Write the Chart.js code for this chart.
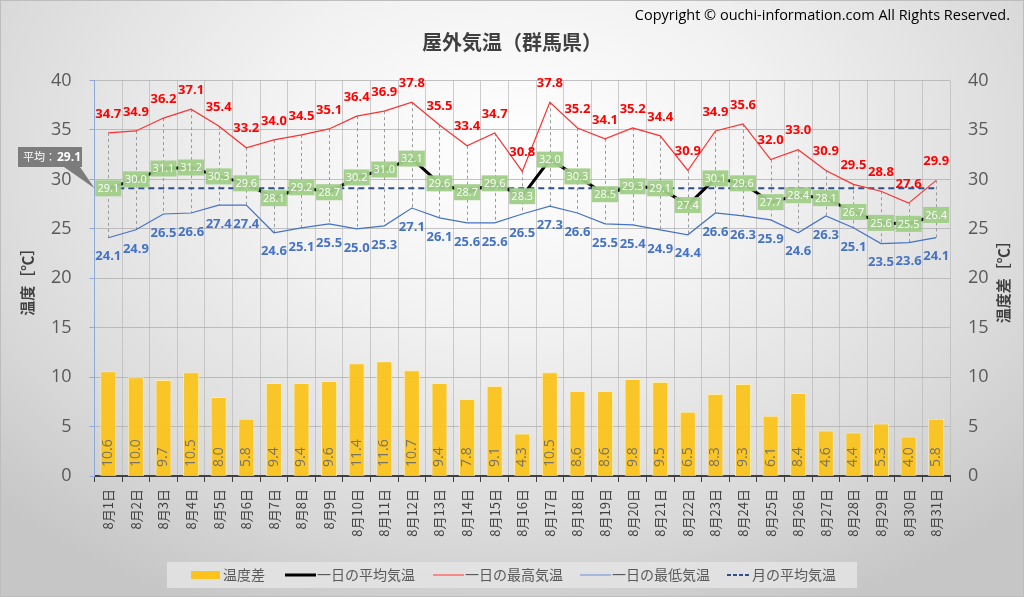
<!DOCTYPE html>
<html>
<head>
<meta charset="utf-8">
<script src="https://cdn.jsdelivr.net/npm/chart.js@4.4.0/dist/chart.umd.min.js"></script>
<style>
  html, body { margin: 0; padding: 0; }
  #wrap {
    width: 1024px; height: 597px; position: relative;
    background: radial-gradient(ellipse 70% 85% at 50% 25%, #ffffff 0%, #f2f2f2 35%, #dadada 75%, #c6c6c6 100%);
  }
</style>
</head>
<body>
<div id="wrap"><canvas id="myChart" width="1024" height="597"></canvas></div>
<script>
var days = [];
for (var d = 1; d <= 31; d++) days.push('8月' + d + '日');

var highs = [34.7, 34.9, 36.2, 37.1, 35.4, 33.2, 34.0, 34.5, 35.1, 36.4, 36.9, 37.8, 35.5, 33.4, 34.7, 30.8,
             37.8, 35.2, 34.1, 35.2, 34.4, 30.9, 34.9, 35.6, 32.0, 33.0, 30.9, 29.5, 28.8, 27.6, 29.9];
var avgs = [29.1, 30.0, 31.1, 31.2, 30.3, 29.6, 28.1, 29.2, 28.7, 30.2, 31.0, 32.1, 29.6, 28.7, 29.6, 28.3,
            32.0, 30.3, 28.5, 29.3, 29.1, 27.4, 30.1, 29.6, 27.7, 28.4, 28.1, 26.7, 25.6, 25.5, 26.4];
var lows = [24.1, 24.9, 26.5, 26.6, 27.4, 27.4, 24.6, 25.1, 25.5, 25.0, 25.3, 27.1, 26.1, 25.6, 25.6, 26.5,
            27.3, 26.6, 25.5, 25.4, 24.9, 24.4, 26.6, 26.3, 25.9, 24.6, 26.3, 25.1, 23.5, 23.6, 24.1];
var diffs = [10.6, 10.0, 9.7, 10.5, 8.0, 5.8, 9.4, 9.4, 9.6, 11.4, 11.6, 10.7, 9.4, 7.8, 9.1, 4.3,
             10.5, 8.6, 8.6, 9.8, 9.5, 6.5, 8.3, 9.3, 6.1, 8.4, 4.6, 4.4, 5.3, 4.0, 5.8];
var monthAvg = 29.1;
var monthLine = days.map(function () { return monthAvg; });

var legendItems = [
    { text: '温度差', type: 'box', color: '#FBC31C' },
    { text: '一日の平均気温', type: 'line', color: '#000000', width: 3 },
    { text: '一日の最高気温', type: 'line', color: '#FF6B6B', width: 1.5 },
    { text: '一日の最低気温', type: 'line', color: '#8FAADC', width: 1.5 },
    { text: '月の平均気温', type: 'dash', color: '#2F4F8F', width: 2 }
];

var NUM = "'Open Sans', 'DejaVu Sans', sans-serif";
var JP = "'Noto Sans CJK JP', sans-serif";

var extras = {
    id: 'extras',
    beforeDatasetsDraw: function (chart) {
        var ctx = chart.ctx, x = chart.scales.x, y = chart.scales.y;
        // high-low drop lines
        ctx.save();
        ctx.setLineDash([3, 3]);
        ctx.strokeStyle = '#9a9a9a';
        ctx.lineWidth = 1;
        for (var i = 0; i < days.length; i++) {
            var px = Math.round(x.getPixelForValue(i)) + 0.5;
            ctx.beginPath();
            ctx.moveTo(px, y.getPixelForValue(highs[i]));
            ctx.lineTo(px, y.getPixelForValue(lows[i]));
            ctx.stroke();
        }
        ctx.restore();
    },
    afterDatasetsDraw: function (chart) {
        var ctx = chart.ctx;
        ctx.save();
        // bar labels
        var bars = chart.getDatasetMeta(0).data;
        ctx.font = '14px ' + NUM;
        ctx.fillStyle = 'rgba(105,105,105,0.9)';
        ctx.textAlign = 'left';
        ctx.textBaseline = 'middle';
        bars.forEach(function (b, i) {
            ctx.save();
            ctx.translate(b.x, b.base - 9);
            ctx.rotate(-Math.PI / 2);
            ctx.fillText(diffs[i].toFixed(1), 0, 0);
            ctx.restore();
        });
        // high labels
        ctx.textAlign = 'center';
        ctx.font = 'bold 13px ' + NUM;
        ctx.fillStyle = '#FF0000';
        chart.getDatasetMeta(3).data.forEach(function (p, i) {
            ctx.fillText(highs[i].toFixed(1), p.x, p.y - 19);
        });
        // low labels
        ctx.fillStyle = '#4472C4';
        chart.getDatasetMeta(2).data.forEach(function (p, i) {
            ctx.fillText(lows[i].toFixed(1), p.x, p.y + 19);
        });
        // average labels in green boxes
        ctx.font = '11px ' + NUM;
        chart.getDatasetMeta(4).data.forEach(function (p, i) {
            ctx.fillStyle = 'rgba(160,205,135,0.95)';
            ctx.fillRect(p.x - 13, p.y - 8, 26, 16);
            ctx.fillStyle = '#ffffff';
            ctx.fillText(avgs[i].toFixed(1), p.x, p.y + 0.5);
        });
        ctx.restore();
    },
    afterDraw: function (chart) {
        var ctx = chart.ctx, area = chart.chartArea, y = chart.scales.y;
        ctx.save();
        // copyright
        ctx.fillStyle = '#000000';
        ctx.textAlign = 'right';
        ctx.textBaseline = 'middle';
        ctx.font = '14.5px ' + NUM;
        ctx.fillText('Copyright © ouchi-information.com All Rights Reserved.', 1010, 16);

        // callout for the monthly average
        var tipY = y.getPixelForValue(monthAvg);
        ctx.fillStyle = 'rgba(118,118,118,0.95)';
        ctx.beginPath();
        ctx.moveTo(64, 167);
        ctx.lineTo(area.left, tipY);
        ctx.lineTo(80, 167);
        ctx.closePath();
        ctx.fill();
        ctx.fillRect(18, 147, 64, 20);
        ctx.fillStyle = '#ffffff';
        ctx.textAlign = 'left';
        ctx.font = '11px ' + JP;
        ctx.fillText('平均：', 23, 157);
        ctx.font = 'bold 12px ' + NUM;
        ctx.fillText(monthAvg.toFixed(1), 57, 157.5);

        // right axis title
        ctx.save();
        ctx.translate(1003, (area.top + area.bottom) / 2);
        ctx.rotate(-Math.PI / 2);
        ctx.textAlign = 'center';
        ctx.fillStyle = '#404040';
        ctx.font = 'bold 15px ' + JP;
        ctx.fillText('温度差［℃］', 0, 0);
        ctx.restore();

        // legend
        ctx.fillStyle = 'rgba(228,228,228,0.85)';
        ctx.fillRect(167, 562, 690, 26);
        var xs = [191, 285, 433, 580, 727];
        var ly = 575;
        ctx.font = '14px ' + JP;
        legendItems.forEach(function (it, i) {
            var x0 = xs[i];
            if (it.type === 'box') {
                ctx.fillStyle = it.color;
                ctx.fillRect(x0, ly - 4, 29, 8);
                x0 += 32;
            } else {
                ctx.strokeStyle = it.color;
                ctx.lineWidth = it.width;
                ctx.setLineDash(it.type === 'dash' ? [4, 2] : []);
                ctx.beginPath();
                ctx.moveTo(x0, ly);
                ctx.lineTo(x0 + (it.type === 'dash' ? 23 : 31), ly);
                ctx.stroke();
                ctx.setLineDash([]);
                x0 += it.type === 'dash' ? 25 : 32;
            }
            ctx.fillStyle = '#595959';
            ctx.fillText(it.text, x0, ly);
        });

        // outer frame
        ctx.strokeStyle = '#bdbdbd';
        ctx.lineWidth = 1;
        ctx.strokeRect(0.5, 0.5, 1023, 596);
        ctx.restore();
    }
};

var ctx = document.getElementById('myChart').getContext('2d');
var myChart = new Chart(ctx, {
    type: 'bar',
    data: {
        labels: days,
        datasets: [
            {
                type: 'bar',
                label: '温度差',
                data: diffs,
                yAxisID: 'y2',
                backgroundColor: 'rgba(251,195,28,0.95)',
                borderColor: 'rgba(255,236,170,0.9)',
                borderWidth: 1,
                barPercentage: 0.58,
                categoryPercentage: 1,
                order: 5
            },
            {
                type: 'line',
                label: '月の平均気温',
                data: monthLine,
                borderColor: '#2F4F8F',
                borderWidth: 2,
                borderDash: [6, 4],
                pointRadius: 0,
                order: 4
            },
            {
                type: 'line',
                label: '一日の最低気温',
                data: lows,
                borderColor: '#4472C4',
                borderWidth: 1.2,
                pointRadius: 0,
                order: 3
            },
            {
                type: 'line',
                label: '一日の最高気温',
                data: highs,
                borderColor: '#FF3030',
                borderWidth: 1.2,
                pointRadius: 0,
                order: 2
            },
            {
                type: 'line',
                label: '一日の平均気温',
                data: avgs,
                borderColor: '#000000',
                borderWidth: 3,
                pointRadius: 0,
                order: 1
            }
        ]
    },
    options: {
        responsive: false,
        animation: false,
        layout: { padding: 0 },
        scales: {
            x: {
                grid: { offset: true, color: 'rgba(185,185,185,0.7)', tickColor: '#404040', tickLength: 6 },
                border: { color: '#404040', width: 2 },
                ticks: {
                    color: '#404040',
                    font: { family: JP, size: 13 },
                    maxRotation: 90,
                    minRotation: 90,
                    autoSkip: false,
                    padding: 7
                },
                afterFit: function (s) { s.height = 121; }
            },
            y: {
                position: 'left',
                min: 0,
                max: 40,
                ticks: { stepSize: 5, color: '#595959', font: { family: NUM, size: 18 }, padding: 18 },
                grid: { color: 'rgba(170,170,170,0.7)', tickColor: '#8EA9DB', tickLength: 5 },
                border: { color: '#8EA9DB', width: 1 },
                title: {
                    display: true,
                    text: '温度［℃］',
                    color: '#404040',
                    font: { family: JP, size: 15, weight: 'bold' },
                    padding: { top: 18, bottom: 0 }
                },
                afterFit: function (s) { s.width = 94.5; }
            },
            y2: {
                position: 'right',
                min: 0,
                max: 40,
                ticks: { stepSize: 5, color: '#595959', font: { family: NUM, size: 18 }, padding: 18 },
                grid: { display: false, drawTicks: false },
                border: { display: false },
                afterFit: function (s) { s.width = 74; }
            }
        },
        plugins: {
            legend: { display: false },
            tooltip: { enabled: false },
            title: {
                display: true,
                text: '屋外気温（群馬県）',
                color: '#404040',
                font: { family: JP, size: 20, weight: 'bold' },
                padding: { top: 30, bottom: 26.5 }
            }
        }
    },
    plugins: [extras]
});
</script>
</body>
</html>
